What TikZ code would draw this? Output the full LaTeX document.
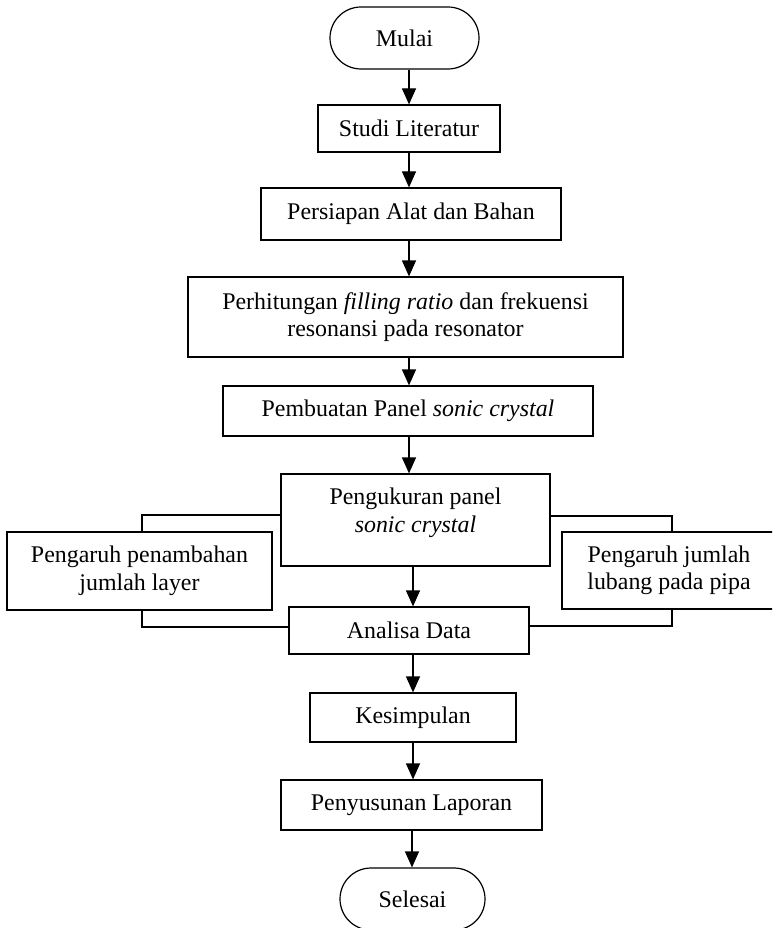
\documentclass[tikz,border=0pt]{standalone}
\usepackage{fontspec}
\setmainfont{Liberation Serif}
\usetikzlibrary{arrows.meta}
\begin{document}
\begin{tikzpicture}[x=1pt,y=-1pt,
  every node/.style={font=\fontsize{23.9pt}{27.5pt}\selectfont, text=black},
  box/.style={draw=black, line width=1.2pt, rectangle, inner sep=0pt, align=center},
  term/.style={box, rounded corners=31pt},
  arr/.style={draw=black, line width=1.2pt, -{Triangle[length=16pt,width=14pt]}},
  link/.style={draw=black, line width=1.2pt}]
\useasboundingbox (0,0) rectangle (772,928);
\clip (0,0) rectangle (772,928);

\node[term, minimum width=149pt, minimum height=62pt] (mulai) at (404.5,38) {Mulai};
\node[box, minimum width=182pt, minimum height=47pt] (studi) at (409,128.5) {Studi Literatur};
\node[box, minimum width=300pt, minimum height=52pt] (persiapan) at (411,214) {Persiapan Alat dan Bahan};
\node[box, minimum width=435pt, minimum height=80pt] (hitung) at (405.5,317) {Perhitungan \textit{filling ratio} dan frekuensi\\resonansi pada resonator};
\node[box, minimum width=370pt, minimum height=50pt] (buat) at (408,411) {Pembuatan Panel \textit{sonic crystal}};
\node[box, minimum width=269pt, minimum height=92pt] (ukur) at (415.5,520) {};
\node[align=center] (ukurt) at (415.5,513) {Pengukuran panel\\\textit{sonic crystal}};
\node[box, minimum width=265pt, minimum height=78pt] (kiri) at (139.5,571) {Pengaruh penambahan\\jumlah layer};
\node[box, minimum width=214pt, minimum height=77pt] (kanan) at (669,570.5) {Pengaruh jumlah\\lubang pada pipa};
\node[box, minimum width=240pt, minimum height=47pt] (analisa) at (409,630.5) {Analisa Data};
\node[box, minimum width=206pt, minimum height=49pt] (simpul) at (413,717.5) {Kesimpulan};
\node[box, minimum width=261pt, minimum height=50pt] (susun) at (411.5,805) {Penyusunan Laporan};
\node[term, minimum width=145pt, minimum height=62pt] (selesai) at (412.5,899) {Selesai};

\coordinate (ax) at (409,0);
\coordinate (bx) at (413,0);
\coordinate (cx) at (412,0);
\draw[arr] (mulai.south -| ax) -- (studi.north -| ax);
\draw[arr] (studi.south -| ax) -- (persiapan.north -| ax);
\draw[arr] (persiapan.south -| ax) -- (hitung.north -| ax);
\draw[arr] (hitung.south -| ax) -- (buat.north -| ax);
\draw[arr] (buat.south -| ax) -- (ukur.north -| ax);
\draw[arr] (ukur.south -| bx) -- (analisa.north -| bx);
\draw[arr] (analisa.south -| bx) -- (simpul.north -| bx);
\draw[arr] (simpul.south -| bx) -- (susun.north -| bx);
\draw[arr] (susun.south -| cx) -- (selesai.north -| cx);

\coordinate (lt) at (142,515);
\coordinate (lb) at (142,627);
\coordinate (rt) at (672,516);
\coordinate (rb) at (672,626);
\draw[link] (ukur.west |- lt) -| (kiri.north -| lt);
\draw[link] (kiri.south -| lb) |- (analisa.west |- lb);
\draw[link] (ukur.east |- rt) -| (kanan.north -| rt);
\draw[link] (kanan.south -| rb) |- (analisa.east |- rb);
\end{tikzpicture}
\end{document}
